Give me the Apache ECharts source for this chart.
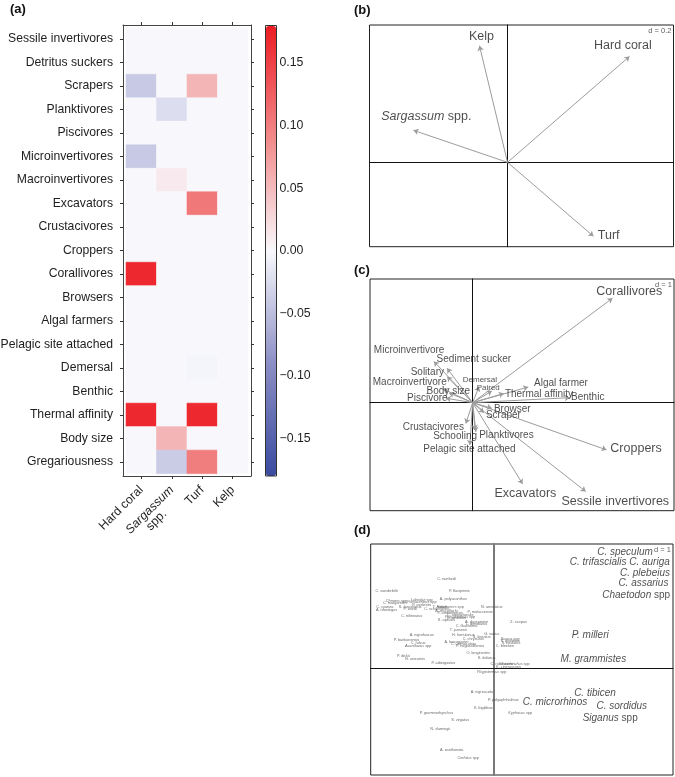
<!DOCTYPE html>
<html><head><meta charset="utf-8">
<script src="https://cdn.jsdelivr.net/npm/echarts@6/dist/echarts.min.js"></script>
<style>html,body{margin:0;padding:0;background:#fff}#c{width:675px;height:777px}</style>
</head><body><div id="c"></div>
<script>
// ---------- (a) heatmap data ----------
const rowNames = ['Sessile invertivores','Detritus suckers','Scrapers','Planktivores','Piscivores','Microinvertivores','Macroinvertivores','Excavators','Crustacivores','Croppers','Corallivores','Browsers','Algal farmers','Pelagic site attached','Demersal','Benthic','Thermal affinity','Body size','Gregariousness'];
const colNames = ['Hard coral','Sargassum spp.','Turf','Kelp'];
const hardCoral = [0,0,-0.04,0,0,-0.04,0,0,0,0,0.17,0,0,0,0,0,0.17,0,0];
const sargassum = [0,0,0,-0.023,0,0,0.012,0,0,0,0,0,0,0,0,0,0,0.055,-0.038];
const turf      = [0,0,0.055,0,0,0,0,0.105,0,0,0,0,0,0,-0.003,0,0.17,0,0.10];
const kelp      = [0,0,0,0,0,0,0,0,0,0,0,0,0,0,0,0,0,0,0];
const colorbarTicks = [-0.15,-0.10,-0.05,0,0.05,0.10,0.15];

// ---------- (b) ----------
const bNames  = ['Hard coral','Sargassum spp.','Turf','Kelp'];
const bArrowX = [0.61,-0.47,0.43,-0.14];
const bArrowY = [0.53,0.16,-0.37,0.583];
const bLabelX = [0.577,-0.406,0.506,-0.13];
const bLabelY = [0.583,0.231,-0.367,0.628];

// ---------- (c) ----------
const cNames  = ['Corallivores','Croppers','Sessile invertivores','Excavators','Algal farmer','Benthic','Thermal affinity','Paired','Demersal','Browser','Scraper','Planktivores','Pelagic site attached','Schooling','Crustacivores','Piscivore','Body size','Macroinvertivore','Solitary','Microinvertivore','Sediment sucker'];
const cArrowX = [3.50,3.35,2.83,1.25,1.39,2.43,0.78,0.48,0.16,0.48,0.28,0.08,-0.07,0.06,-0.17,-0.67,-0.59,-0.74,-0.64,-0.97,-0.64];
const cArrowY = [2.61,-1.18,-2.22,-2.03,0.39,0.125,0.23,0.29,0.40,-0.14,-0.25,-0.73,-1.06,-0.68,-0.52,0.11,0.24,0.34,0.65,1.03,0.86];
const cLabelX = [3.92,4.09,3.57,1.32,2.21,2.88,1.66,0.39,0.18,0.99,0.77,0.845,-0.08,-0.44,-0.985,-1.135,-0.61,-1.575,-1.135,-1.59,0.03];
const cLabelY = [2.775,-1.15,-2.46,-2.26,0.485,0.135,0.21,0.36,0.57,-0.16,-0.325,-0.825,-1.16,-0.85,-0.615,0.11,0.275,0.51,0.76,1.32,1.09];
const cBig   = ['Corallivores','Croppers','Sessile invertivores','Excavators'];
const cSmall = ['Paired','Demersal'];

// ---------- (d) ----------
const dMainNames = ['C. speculum','C. trifascialis C. auriga','C. plebeius','C. assarius','Chaetodon spp','P. milleri','M. grammistes','C. tibicen','C. microrhinos','C. sordidus','Siganus spp'];
const dMainX = [3.29,3.16,3.79,3.75,3.57,2.42,2.50,2.54,1.54,3.21,2.92];
const dMainY = [2.90,2.65,2.39,2.14,1.83,0.83,0.225,-0.625,-0.85,-0.96,-1.25];
const dSmallNames = ["C. rainfordi","C. vanderbilti","P. flavipinnis","Chromis spp","C. margaritifer","C. cyanea","A. triostegus","S. fasciolatus","P. wardi","Labridae spp","Pomacentrus spp","P. coelestis","A. polyacanthus","T. lunare","C. schoenleinii","Halichoeres spp","A. mccullochi","P. amboinensis","C. atripectoralis","Pseudanthias spp","D. aruanus","C. trilineatus","S. apicalis","P. moluccensis","N. annulatus","Z. scopas","A. dussumieri","L. dimidiatus","C. flavissima","T. jansenii","A. nigrofuscus","P. bankanensis","C. fulvus","Acanthurus spp","H. hortulanus","S. lineatus","C. chrysurus","G. varius","A. leucogaster","C. unimaculata","P. nagasakiensis","Scarus spp","S. ghobban","S. rivulatus","C. bleekeri","O. longirostris","S. doliatus","P. dickii","N. unicornis","P. adiergastos","C. rubescens","Ostorhinchus spp","K. cinerascens","Plagiotremus spp","A. nigricauda","P. polyophthalmus","K. bigibbus","Kyphosus spp","P. grammorhynchus","S. virgatus","N. vlamingii","A. xanthonota","Cirrhitus spp"];
const dSmallX = [-1.17,-2.67,-0.85,-2.42,-2.46,-2.71,-2.67,-2.08,-2.08,-1.79,-1.79,-1.79,-1.00,-1.33,-1.42,-1.08,-1.17,-1.08,-0.83,-0.83,-0.92,-2.04,-1.17,-0.33,-0.04,0.63,-0.42,-0.42,-0.67,-0.88,-1.79,-2.17,-1.88,-1.88,-0.75,-0.29,-0.50,-0.04,-0.92,-0.75,-0.58,0.42,0.42,0.44,0.29,-0.38,-0.17,-2.25,-1.96,-1.25,0.21,0.54,0.38,-0.04,-0.29,0.25,-0.25,0.67,-1.42,-0.83,-1.33,-1.04,-0.63];
const dSmallY = [2.23,1.93,1.93,1.68,1.63,1.53,1.46,1.54,1.48,1.71,1.65,1.59,1.73,1.53,1.48,1.53,1.44,1.38,1.33,1.28,1.25,1.31,1.21,1.42,1.53,1.17,1.17,1.11,1.06,0.96,0.83,0.71,0.63,0.56,0.83,0.78,0.73,0.86,0.67,0.60,0.56,0.74,0.68,0.63,0.57,0.38,0.25,0.31,0.23,0.14,0.11,0.11,0.04,-0.09,-0.60,-0.79,-0.98,-1.11,-1.11,-1.29,-1.52,-2.04,-2.25];

// ---------- chart ----------
const FONT = '"Liberation Sans", Arial, Helvetica, sans-serif';
const TXT = '#1e1e1e';
const heatData = [];
const cols = [hardCoral, sargassum, turf, kelp];
rowNames.forEach((r, ri) => cols.forEach((col, ci) => heatData.push([ci, ri, col[ri]])));

function fmt(n, allItalic) {
  const m = n.match(/^(\S+) (spp\.?)$/);
  if (m && !/^[A-Z]\.$/.test(m[1])) return '{i|' + m[1] + '} ' + m[2];
  return allItalic ? '{i|' + n + '}' : n;
}
function textSeries(ax, names, xs, ys, size, opt) {
  opt = opt || {};
  const color = opt.color || TXT;
  return {
    type: 'scatter', xAxisIndex: ax, yAxisIndex: ax, symbolSize: 1, silent: true, z: 6,
    itemStyle: { color: 'rgba(0,0,0,0)' },
    data: names.map((n, i) => ({ name: n, value: [xs[i], ys[i]] })),
    label: {
      show: true, position: 'inside', formatter: p => fmt(p.name, opt.italic),
      fontSize: size, color: color, fontFamily: FONT,
      align: opt.align || 'center', verticalAlign: opt.valign || 'middle', offset: opt.offset || [0, 0],
      rich: { i: { fontStyle: 'italic', fontSize: size, color: color, fontFamily: FONT } }
    }
  };
}
function arrowSeries(ax, xs, ys) {
  return {
    type: 'lines', coordinateSystem: 'cartesian2d', xAxisIndex: ax, yAxisIndex: ax, silent: true, z: 4,
    symbol: ['none', 'arrow'], symbolSize: 5,
    lineStyle: { color: '#9c9c9c', width: 1, opacity: 1, curveness: 0 },
    data: xs.map((x, i) => ({ coords: [[0, 0], [x, ys[i]]] }))
  };
}
function biAxes(grid, xmin, xmax, ymin, ymax, vColor, vWidth) {
  return [
    { gridIndex: grid, type: 'value', min: xmin, max: xmax, axisLine: { show: true, onZero: true, lineStyle: { color: '#111', width: 1 } }, axisTick: { show: false }, axisLabel: { show: false }, splitLine: { show: false } },
    { gridIndex: grid, type: 'value', min: ymin, max: ymax, axisLine: { show: true, onZero: true, lineStyle: { color: vColor || '#111', width: vWidth || 1 } }, axisTick: { show: false }, axisLabel: { show: false }, splitLine: { show: false } }
  ];
}
const ticks4 = [0, 1, 2, 3];
const ticks19 = rowNames.map((_, i) => i);
const sargIdx = colNames.indexOf('Sargassum spp.');
const plainCols = ticks4.filter(i => i !== sargIdx);
const axLine = { show: true, onZero: false, lineStyle: { color: '#444', width: 1 } };
const tickStyle = { lineStyle: { color: '#333', width: 1 } };

const bAx = biAxes(2, -0.69, 0.83, -0.422, 0.687);
const cAx = biAxes(3, -2.57, 5.04, -2.70, 3.09);
const dAx = biAxes(4, -3.065, 4.49, -2.67, 3.11, '#7a7a7a', 2);

const G = { outerBoundsMode: 'none', containLabel: false };
const option = {
  backgroundColor: '#fff',
  animation: false,
  textStyle: { fontFamily: FONT },
  title: [
    { text: '(a)', left: 10, top: 3, padding: 0, textStyle: { fontSize: 13, fontWeight: 'bold', color: '#111', fontFamily: FONT } },
    { text: '(b)', left: 354, top: 4, padding: 0, textStyle: { fontSize: 13, fontWeight: 'bold', color: '#111', fontFamily: FONT } },
    { text: '(c)', left: 354, top: 264, padding: 0, textStyle: { fontSize: 13, fontWeight: 'bold', color: '#111', fontFamily: FONT } },
    { text: '(d)', left: 354, top: 524, padding: 0, textStyle: { fontSize: 13, fontWeight: 'bold', color: '#111', fontFamily: FONT } }
  ],
  grid: [
    { ...G, left: 123, top: 25, width: 128, height: 451, show: false },
    { ...G, left: 265.5, top: 25.5, width: 11, height: 450.5, show: true, borderColor: '#333', borderWidth: 1, backgroundColor: 'rgba(0,0,0,0)', z: 10 },
    { ...G, left: 369.5, top: 25, width: 304, height: 221.7, show: true, borderColor: '#222', borderWidth: 1 },
    { ...G, left: 370, top: 279, width: 304, height: 231.7, show: true, borderColor: '#222', borderWidth: 1 },
    { ...G, left: 370.7, top: 544, width: 302.3, height: 231, show: true, borderColor: '#222', borderWidth: 1 }
  ],
  xAxis: [
    { gridIndex: 0, type: 'value', position: 'bottom', min: -0.6, max: 3.6, axisLine: axLine, splitLine: { show: false },
      axisTick: { show: true, customValues: ticks4, length: 3, ...tickStyle },
      axisLabel: { show: true, customValues: plainCols, rotate: 45, margin: 12, fontSize: 12.3, color: TXT, fontFamily: FONT,
        hideOverlap: false, formatter: v => colNames[Math.round(v)] } },
    { gridIndex: 0, type: 'value', position: 'top', min: -0.6, max: 3.6, axisLine: axLine, splitLine: { show: false },
      axisTick: { show: true, customValues: ticks4, length: 3, ...tickStyle }, axisLabel: { show: false } },
    { gridIndex: 1, type: 'value', min: 0, max: 1, show: false },
    bAx[0], cAx[0], dAx[0],
    { gridIndex: 0, type: 'value', position: 'bottom', min: -0.6, max: 3.6, axisLine: { show: false }, axisTick: { show: false }, splitLine: { show: false },
      axisLabel: { show: true, customValues: [sargIdx], rotate: 45, margin: 12, fontSize: 12.3, color: TXT, fontFamily: FONT, hideOverlap: false,
        formatter: v => { const n = colNames[Math.round(v)].split(' '); return '{e| }\n{i|' + n[0] + '}\n{s|' + n[1] + '}'; },
        rich: { e: { fontSize: 12.3, fontFamily: FONT }, i: { fontStyle: 'italic', fontSize: 12.3, color: TXT, fontFamily: FONT }, s: { fontSize: 12.3, color: TXT, fontFamily: FONT, padding: [0, 22, 0, 0] } } } }
  ],
  yAxis: [
    { gridIndex: 0, type: 'value', position: 'left', inverse: true, min: -0.6, max: 18.6, axisLine: axLine, splitLine: { show: false },
      axisTick: { show: true, customValues: ticks19, length: 3, ...tickStyle },
      axisLabel: { show: true, customValues: ticks19, margin: 10, fontSize: 12.2, color: TXT, fontFamily: FONT, hideOverlap: false, formatter: v => rowNames[Math.round(v)] } },
    { gridIndex: 0, type: 'value', position: 'right', inverse: true, min: -0.6, max: 18.6, axisLine: axLine, splitLine: { show: false },
      axisTick: { show: true, customValues: ticks19, length: 3, ...tickStyle }, axisLabel: { show: false } },
    { gridIndex: 1, type: 'value', position: 'right', min: -0.18, max: 0.18, axisLine: { show: false }, splitLine: { show: false },
      axisTick: { show: true, customValues: colorbarTicks, length: 3.5, ...tickStyle },
      axisLabel: { show: true, customValues: colorbarTicks, margin: 3, fontSize: 12.3, color: TXT, fontFamily: FONT,
        formatter: v => (v < -1e-9 ? '\u2212' : '') + Math.abs(v).toFixed(2) } },
    bAx[1], cAx[1], dAx[1]
  ],
  visualMap: [{
    type: 'continuous', min: -0.18, max: 0.18, dimension: 2, seriesIndex: 0,
    orient: 'vertical', left: 266, top: 26, itemWidth: 10, itemHeight: 450, padding: 0,
    calculable: false, hoverLink: false, text: null, realtime: false,
    inRange: { color: ['#3a4b9f', '#8c8fc5', '#f8f8fc', '#f28a8a', '#ec1c24'] }
  }],
  series: [
    { type: 'custom', xAxisIndex: 0, yAxisIndex: 0, data: heatData, encode: { x: 0, y: 1 }, silent: true, z: 1,
      renderItem: (params, api) => {
        const x = api.value(0), y = api.value(1);
        const p1 = api.coord([x - 0.5, y - 0.5]);
        const p2 = api.coord([x + 0.5, y + 0.5]);
        const col = api.visual('color');
        return { type: 'rect',
          shape: { x: Math.min(p1[0], p2[0]), y: Math.min(p1[1], p2[1]), width: Math.abs(p2[0] - p1[0]), height: Math.abs(p2[1] - p1[1]) },
          style: { fill: col, stroke: col, lineWidth: 0.6 } };
      } },
    // (b)
    arrowSeries(3, bArrowX, bArrowY),
    textSeries(3, bNames, bLabelX, bLabelY, 12.5),
    textSeries(3, ['d = 0.2'], [0.83], [0.687], 7.5, { align: 'right', valign: 'top', offset: [-2, 2], color: '#333' }),
    // (c)
    arrowSeries(4, cArrowX, cArrowY),
    (() => { const idx = cNames.map((n, i) => i).filter(i => cBig.includes(cNames[i]));
      return textSeries(4, idx.map(i => cNames[i]), idx.map(i => cLabelX[i]), idx.map(i => cLabelY[i]), 12.5); })(),
    (() => { const idx = cNames.map((n, i) => i).filter(i => !cBig.includes(cNames[i]) && !cSmall.includes(cNames[i]));
      return textSeries(4, idx.map(i => cNames[i]), idx.map(i => cLabelX[i]), idx.map(i => cLabelY[i]), 10); })(),
    (() => { const idx = cNames.map((n, i) => i).filter(i => cSmall.includes(cNames[i]));
      return textSeries(4, idx.map(i => cNames[i]), idx.map(i => cLabelX[i]), idx.map(i => cLabelY[i]), 8); })(),
    textSeries(4, ['d = 1'], [5.04], [3.09], 7.5, { align: 'right', valign: 'top', offset: [-2, 2], color: '#333' }),
    // (d)
    textSeries(5, dSmallNames, dSmallX, dSmallY, 3.8, { color: '#444' }),
    textSeries(5, dMainNames, dMainX, dMainY, 10, { italic: true }),
    textSeries(5, ['d = 1'], [4.49], [3.11], 7.5, { align: 'right', valign: 'top', offset: [-2, 2], color: '#333' })
  ]
};
const chart = echarts.init(document.getElementById('c'), null, { renderer: 'canvas' });
chart.setOption(option);
</script></body></html>
